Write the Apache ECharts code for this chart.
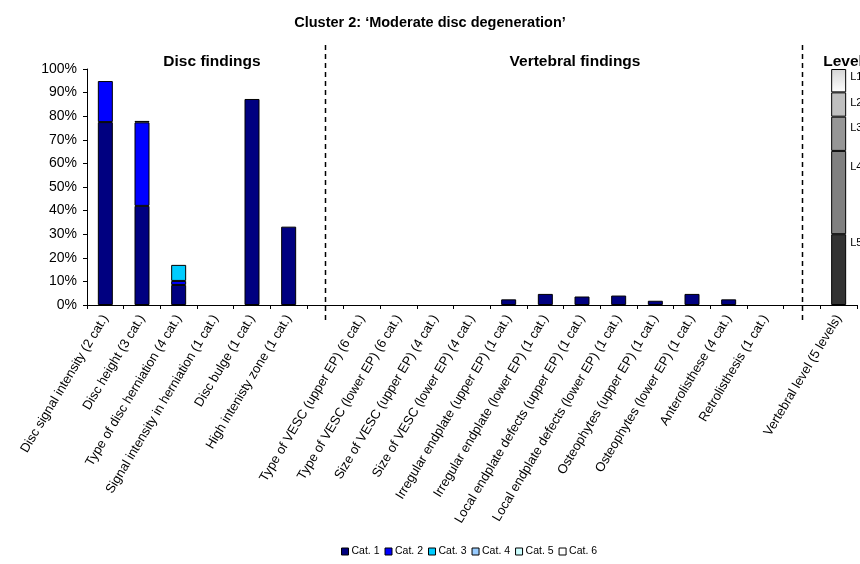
<!DOCTYPE html>
<html><head><meta charset="utf-8">
<script src="https://cdn.jsdelivr.net/npm/echarts@6/dist/echarts.min.js"></script>
<style>html,body{margin:0;padding:0;background:#fff}#c{width:860px;height:564px}</style>
</head><body><div id="c"></div>
<script>
const categories = [
  'Disc signal intensity (2 cat.)','Disc height (3 cat.)','Type of disc herniation (4 cat.)',
  'Signal intensity in herniation (1 cat.)','Disc bulge (1 cat.)','High intenisty zone (1 cat.)',
  '',
  'Type of VESC (upper EP) (6 cat.)','Type of VESC (lower EP) (6 cat.)','Size of VESC (upper EP) (4 cat.)',
  'Size of VESC (lower EP) (4 cat.)','Irregular endplate (upper EP) (1 cat.)','Irregular endplate (lower EP) (1 cat.)',
  'Local endplate defects (upper EP) (1 cat.)','Local endplate defects (lower EP) (1 cat.)',
  'Osteophytes (upper EP) (1 cat.)','Osteophytes (lower EP) (1 cat.)','Anterolisthese (4 cat.)','Retrolisthesis (1 cat.)',
  '',
  'Vertebral level (5 levels)'
];
const yTicks = [0,10,20,30,40,50,60,70,80,90,100];
const catNames = ['Cat. 1','Cat. 2','Cat. 3','Cat. 4','Cat. 5','Cat. 6'];
const cat1 = [77.5,42,8.5,null,87.3,33.2,null,null,null,null,null,2.4,4.7,3.6,4.0,1.8,4.7,2.4,null,null,null];
const cat2 = [17.4,35.4,1.7,null,null,null,null,null,null,null,null,null,null,null,null,null,null,null,null,null,null];
const cat3 = [null,0.6,6.8,null,null,null,null,null,null,null,null,null,null,null,null,null,null,null,null,null,null];
const cat4 = [null,null,null,null,null,null,null,null,null,null,null,null,null,null,null,null,null,null,null,null,null];
const cat5 = [null,null,null,null,null,null,null,null,null,null,null,null,null,null,null,null,null,null,null,null,null];
const cat6 = [null,null,null,null,null,null,null,null,null,null,null,null,null,null,null,null,null,null,null,null,null];
const levelNames = ['L5','L4','L3','L2','L1'];
const levelValues = [30,35.3,14.5,10.3,9.9];
const levelIndex = 20;

const catColors = ['#000080','#0000FF','#00CCFF','#99CCFF','#CCFFFF','#FFFFFF'];
const levelColors = ['#333333','#808080','#969696','#C0C0C0',
  {type:'linear',x:0,y:0,x2:0,y2:1,colorStops:[{offset:0,color:'#D4D4D4'},{offset:1,color:'#FFFFFF'}]}];
const levelLabelOffsets = [9,16,11,11,8];
const FONT = 'Liberation Sans, Arial, sans-serif';

const catData = [cat1,cat2,cat3,cat4,cat5,cat6];
const series = catData.map((d,i)=>({
  name: catNames[i], type:'bar', stack:'s', data:d, barWidth:15,
  itemStyle:{color:catColors[i], borderColor:'#000', borderWidth:1},
  emphasis:{disabled:true}
}));
levelNames.forEach((n,i)=>{
  const d = categories.map((c,k)=> k===levelIndex ? levelValues[i] : null);
  series.push({
    name:n, type:'bar', stack:'s', data:d, barWidth:15,
    itemStyle:{color:levelColors[i], borderColor:'#000', borderWidth:1},
    label:{show:true, formatter:n, position:[19, levelLabelOffsets[i]], verticalAlign:'middle', align:'left',
      color:'#000', fontSize:11, fontFamily:FONT},
    emphasis:{disabled:true}
  });
});

const chart = echarts.init(document.getElementById('c'), null, {renderer:'canvas'});
chart.setOption({
  animation:false,
  backgroundColor:'#fff',
  title:[
    {text:'Cluster 2: \u2018Moderate disc degeneration\u2019', left:'center', top:10,
      textStyle:{fontSize:14.5, fontWeight:'bold', color:'#000', fontFamily:FONT}},
    {text:'Disc findings', left:207, top:49, textAlign:'center',
      textStyle:{fontSize:15.5, fontWeight:'bold', color:'#000', fontFamily:FONT}},
    {text:'Vertebral findings', left:570, top:49, textAlign:'center',
      textStyle:{fontSize:15.5, fontWeight:'bold', color:'#000', fontFamily:FONT}},
    {text:'Level', left:838, top:49, textAlign:'center',
      textStyle:{fontSize:15.5, fontWeight:'bold', color:'#000', fontFamily:FONT}}
  ],
  legend:{
    data:catNames, bottom:2, left:336, itemWidth:7, itemHeight:7, itemGap:5,
    icon:'rect',
    itemStyle:{borderColor:'#000', borderWidth:1},
    textStyle:{fontSize:10.5, color:'#000', fontFamily:FONT, padding:[0,0,0,-2]}
  },
  grid:{left:87, right:3, top:69, bottom:259, containLabel:false},
  xAxis:{
    type:'category', data:categories,
    axisLine:{lineStyle:{color:'#000'}},
    axisTick:{show:true, alignWithLabel:false, length:4, lineStyle:{color:'#000'}},
    axisLabel:{interval:0, rotate:59, fontSize:13, color:'#000', fontFamily:FONT, margin:11}
  },
  yAxis:{
    type:'value', min:0, max:100, interval:10,
    splitLine:{show:false},
    axisLine:{show:true, lineStyle:{color:'#000'}},
    axisTick:{show:true, length:4, lineStyle:{color:'#000'}},
    axisLabel:{formatter:(v)=> yTicks.includes(v) ? v+'%' : '', fontSize:14, color:'#000', fontFamily:FONT, margin:10}
  },
  series: series
});

// dashed separators at the empty gap categories
const gapIdx = categories.map((c,i)=> c==='' ? i : -1).filter(i=>i>=0);
const yTop = chart.convertToPixel({yAxisIndex:0}, 100);
const yBot = chart.convertToPixel({yAxisIndex:0}, 0);
const graphics = gapIdx.map(i=>{
  const x = Math.round(chart.convertToPixel({xAxisIndex:0}, i)) + 0.5;
  return {type:'line', silent:true, z:100,
    shape:{x1:x, y1:yTop-24, x2:x, y2:yBot+17},
    style:{stroke:'#000', lineWidth:1.5, lineDash:[5,4]}};
});
chart.setOption({graphic:graphics});
</script></body></html>
